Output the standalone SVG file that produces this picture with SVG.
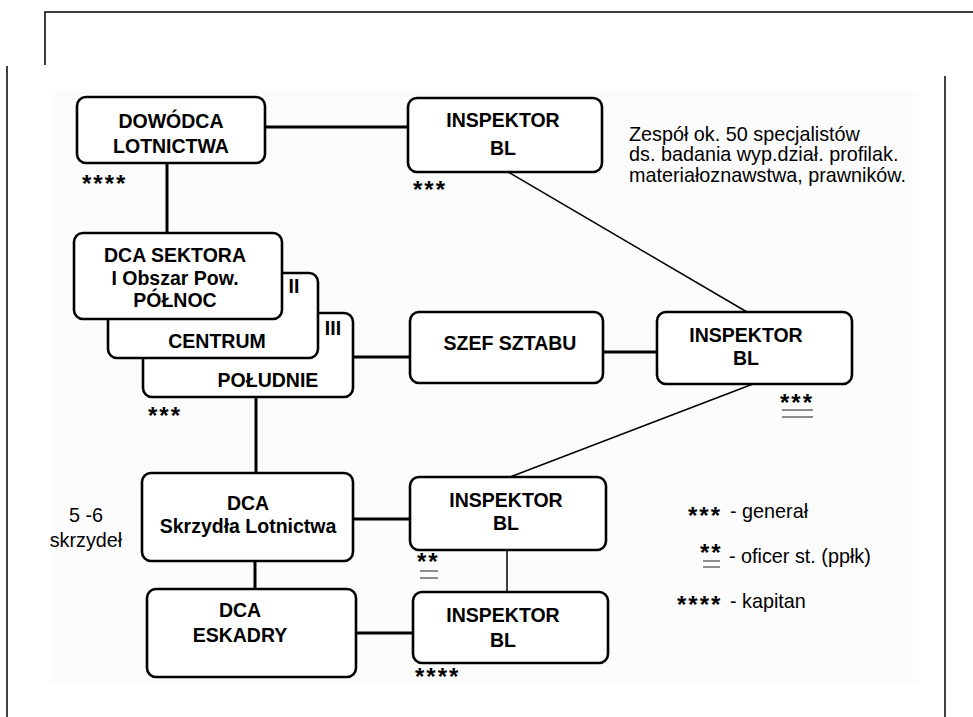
<svg xmlns="http://www.w3.org/2000/svg" width="973" height="717" viewBox="0 0 973 717">
<style>
.box{fill:#fff;stroke:#000;stroke-width:2.6}
.lbl{font-family:"Liberation Sans",Arial,sans-serif;font-weight:bold;font-size:19.5px;fill:#000;text-anchor:middle}
.txt{font-family:"Liberation Sans",Arial,sans-serif;font-size:19.8px;fill:#000}
.star{font-family:"Liberation Sans",Arial,sans-serif;font-weight:bold;font-size:24px;letter-spacing:2px;fill:#000}
.thick{stroke:#000;stroke-width:3;fill:none}
.thin{stroke:#000;stroke-width:1.5;fill:none}
.ul{stroke:#444;stroke-width:1.2}
.frame{stroke:#000;stroke-width:1.5;fill:none}
</style>
<rect x="0" y="0" width="973" height="717" fill="#fff"/>
<g id="frame">
<rect x="50" y="90" width="869" height="593" fill="#fcfcfc"/>
<polyline class="frame" points="45,65 45,12 973,12"/>
<line class="frame" x1="7" y1="66" x2="7" y2="717"/>
<line class="frame" x1="945" y1="76" x2="945" y2="717"/>
</g>
<g id="connectors">
<line class="thick" x1="265" y1="127" x2="408" y2="127"/>
<line class="thick" x1="167" y1="163" x2="167" y2="233"/>
<line class="thin" x1="508" y1="172" x2="747" y2="312"/>
<line class="thick" x1="353" y1="357" x2="410" y2="357"/>
<line class="thick" x1="603" y1="352" x2="657" y2="352" stroke-width="4"/>
<line class="thin" x1="753" y1="384" x2="510" y2="477"/>
<line class="thick" x1="256" y1="397" x2="256" y2="473"/>
<line class="thick" x1="353" y1="519" x2="410" y2="519"/>
<line class="thick" x1="255" y1="561" x2="255" y2="589"/>
<line class="thin" x1="507" y1="550" x2="507" y2="592"/>
<line class="thick" x1="356" y1="633" x2="413" y2="633"/>
</g>
<g id="dowodca">
<rect class="box" x="77" y="97" width="188" height="66" rx="9"/>
<text class="lbl" x="171" y="128">DOWÓDCA</text>
<text class="lbl" x="171" y="153">LOTNICTWA</text>
<text class="star" x="82" y="192">****</text>
</g>
<g id="inspektor1">
<rect class="box" x="408" y="98" width="194" height="74" rx="9"/>
<text class="lbl" x="503" y="127">INSPEKTOR</text>
<text class="lbl" x="503" y="155">BL</text>
<text class="star" x="413" y="198">***</text>
</g>
<g id="zespol">
<text class="txt" x="629" y="141">Zespół ok. 50 specjalistów</text>
<text class="txt" x="629" y="161">ds. badania wyp.dział. profilak.</text>
<text class="txt" x="629" y="182">materiałoznawstwa, prawników.</text>
</g>
<g id="poludnie">
<rect class="box" x="143" y="313" width="210" height="84" rx="9"/>
<text class="lbl" x="268" y="387">POŁUDNIE</text>
<text class="lbl" x="333" y="335">III</text>
<text class="star" x="148" y="424">***</text>
</g>
<g id="centrum">
<rect class="box" x="108" y="273" width="210" height="85" rx="9"/>
<text class="lbl" x="217" y="348">CENTRUM</text>
<text class="lbl" x="294" y="293">II</text>
</g>
<g id="sektor">
<rect class="box" x="74" y="233" width="208" height="86" rx="9"/>
<text class="lbl" x="175" y="262">DCA SEKTORA</text>
<text class="lbl" x="175" y="285">I Obszar Pow.</text>
<text class="lbl" x="175" y="307">PÓŁNOC</text>
</g>
<g id="szef">
<rect class="box" x="410" y="312" width="193" height="71" rx="9"/>
<text class="lbl" x="510" y="350">SZEF SZTABU</text>
</g>
<g id="inspektor2">
<rect class="box" x="657" y="312" width="195" height="72" rx="9"/>
<text class="lbl" x="746" y="342">INSPEKTOR</text>
<text class="lbl" x="746" y="365">BL</text>
<text class="star" x="780" y="411">***</text>
<line class="ul" x1="782" y1="410" x2="813" y2="410"/>
<line class="ul" x1="782" y1="417" x2="813" y2="417"/>
</g>
<g id="skrzydla">
<rect class="box" x="142" y="473" width="211" height="88" rx="9"/>
<text class="lbl" x="248" y="510">DCA</text>
<text class="lbl" x="248" y="533">Skrzydła Lotnictwa</text>
</g>
<g id="skrzydel-note">
<text class="txt" x="86" y="522" text-anchor="middle">5 -6</text>
<text class="txt" x="86" y="547" text-anchor="middle">skrzydeł</text>
</g>
<g id="inspektor3">
<rect class="box" x="410" y="477" width="196" height="73" rx="9"/>
<text class="lbl" x="506" y="507">INSPEKTOR</text>
<text class="lbl" x="506" y="530">BL</text>
<text class="star" x="417" y="570">**</text>
<line class="ul" x1="420" y1="571" x2="438" y2="571"/>
<line class="ul" x1="420" y1="578" x2="438" y2="578"/>
</g>
<g id="eskadry">
<rect class="box" x="147" y="589" width="209" height="88" rx="9"/>
<text class="lbl" x="240" y="617">DCA</text>
<text class="lbl" x="240" y="642">ESKADRY</text>
</g>
<g id="inspektor4">
<rect class="box" x="413" y="592" width="195" height="71" rx="9"/>
<text class="lbl" x="503" y="622">INSPEKTOR</text>
<text class="lbl" x="503" y="647">BL</text>
<text class="star" x="415" y="685">****</text>
</g>
<g id="legend">
<text class="star" x="688" y="524">***</text>
<text class="txt" x="730" y="518">- generał</text>
<text class="star" x="700" y="561">**</text>
<line class="ul" x1="703" y1="561" x2="720" y2="561"/>
<line class="ul" x1="703" y1="567" x2="720" y2="567"/>
<text class="txt" x="729" y="563">- oficer st. (ppłk)</text>
<text class="star" x="677" y="613">****</text>
<text class="txt" x="730" y="608">- kapitan</text>
</g>
</svg>
